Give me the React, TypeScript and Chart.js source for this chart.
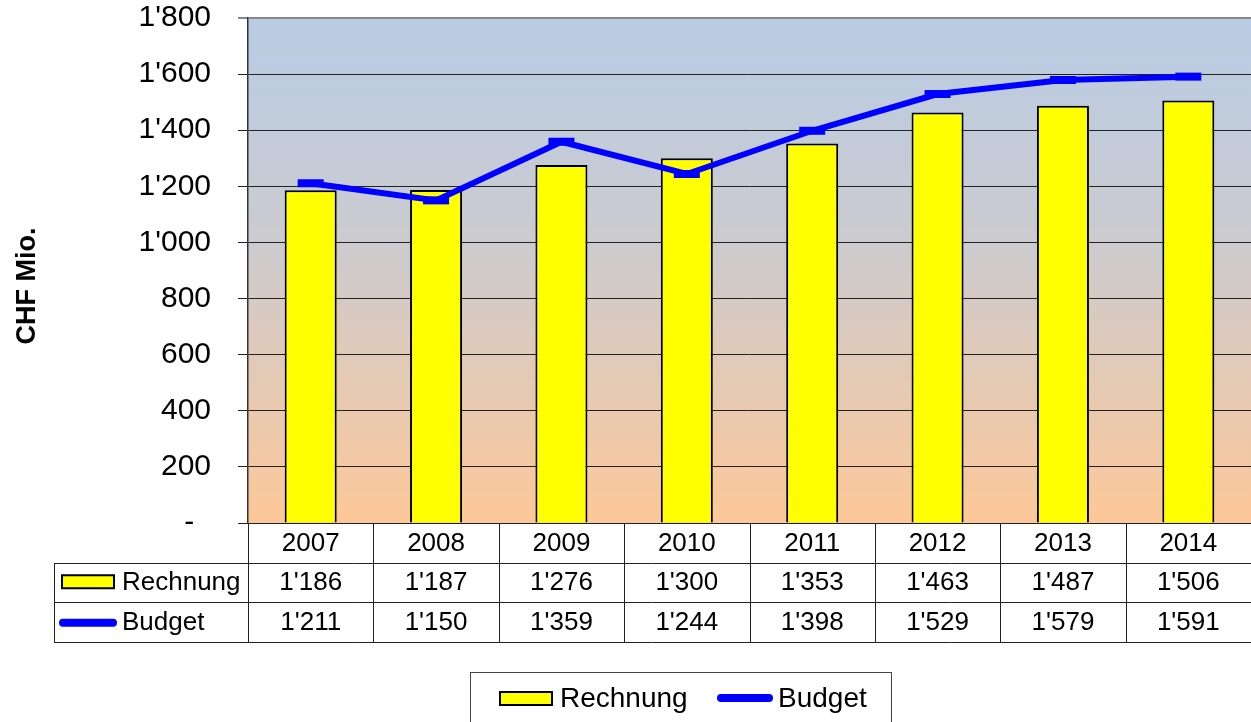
import React, { useEffect, useRef } from 'react';
import { Chart, registerables } from 'chart.js';

Chart.register(...registerables);

const years = ['2007', '2008', '2009', '2010', '2011', '2012', '2013', '2014'];
const rechnung = [1186, 1187, 1276, 1300, 1353, 1463, 1487, 1506];
const budget = [1211, 1150, 1359, 1244, 1398, 1529, 1579, 1591];
const seriesNames = ['Rechnung', 'Budget'];
const axisTitle = 'CHF Mio.';
const yMin = 0;
const yMax = 1800;
const yStep = 200;

const FONT = "'Liberation Sans', Arial, sans-serif";
const BAR_FILL = '#FFFF00';
const LINE_COLOR = '#0000FF';

const fmt = (v: number): string => {
  if (v === 0) return '-  ';
  if (v >= 1000) return Math.floor(v / 1000) + "'" + String(v % 1000).padStart(3, '0');
  return String(v);
};

const bgPlugin = {
  id: 'bgGradient',
  beforeDraw(chart: any) {
    const { ctx, chartArea: a } = chart;
    ctx.save();
    ctx.fillStyle = '#FFFFFF';
    ctx.fillRect(0, 0, chart.width, chart.height);
    const g = ctx.createLinearGradient(0, a.top, 0, a.bottom);
    g.addColorStop(0, '#B8CCE4');
    g.addColorStop(0.45, '#CCCBCF');
    g.addColorStop(1, '#FDC898');
    ctx.fillStyle = g;
    ctx.fillRect(a.left, a.top, a.right - a.left, a.bottom - a.top);
    ctx.restore();
  },
};

const drawRectKey = (ctx: CanvasRenderingContext2D, x: number, y: number, w: number, h: number) => {
  ctx.fillStyle = BAR_FILL;
  ctx.fillRect(x, y, w, h);
  ctx.strokeStyle = '#000';
  ctx.lineWidth = 2;
  ctx.strokeRect(x, y, w, h);
};

const drawLineKey = (ctx: CanvasRenderingContext2D, x1: number, x2: number, y: number) => {
  ctx.strokeStyle = LINE_COLOR;
  ctx.lineWidth = 8;
  ctx.lineCap = 'round';
  ctx.beginPath();
  ctx.moveTo(x1, y);
  ctx.lineTo(x2, y);
  ctx.stroke();
  ctx.lineCap = 'butt';
};

const tablePlugin = {
  id: 'dataTable',
  afterDraw(chart: any) {
    const { ctx, chartArea: a } = chart;
    const xs = chart.scales.x;
    const n = years.length;
    const colW = (a.right - a.left) / n;
    const rowH = 39.5;
    const r0 = a.bottom;
    const r1 = r0 + rowH;
    const r2 = r1 + rowH;
    const r3 = r2 + rowH;
    const leftX = 54;

    ctx.save();
    ctx.strokeStyle = '#222';
    ctx.lineWidth = 1;
    ctx.beginPath();
    for (const y of [r1, r2, r3]) {
      const yy = Math.round(y) + 0.5;
      ctx.moveTo(leftX, yy);
      ctx.lineTo(a.right, yy);
    }
    for (let i = 0; i < n; i++) {
      const xx = Math.round(a.left + i * colW) + 0.5;
      ctx.moveTo(xx, r0);
      ctx.lineTo(xx, Math.round(r3) + 0.5);
    }
    ctx.moveTo(leftX + 0.5, Math.round(r1) + 0.5);
    ctx.lineTo(leftX + 0.5, Math.round(r3) + 0.5);
    ctx.stroke();

    ctx.fillStyle = '#000';
    ctx.font = `26px ${FONT}`;
    ctx.textAlign = 'center';
    ctx.textBaseline = 'middle';
    years.forEach((yr, i) => {
      const cx = xs.getPixelForValue(i);
      ctx.fillText(yr, cx, (r0 + r1) / 2 + 1);
      ctx.fillText(fmt(rechnung[i]), cx, (r1 + r2) / 2 + 1);
      ctx.fillText(fmt(budget[i]), cx, (r2 + r3) / 2 + 1);
    });

    drawRectKey(ctx, 62, (r1 + r2) / 2 - 7, 52, 13);
    drawLineKey(ctx, 63, 113, (r2 + r3) / 2 + 1);
    ctx.fillStyle = '#000';
    ctx.textAlign = 'left';
    ctx.font = `26px ${FONT}`;
    ctx.fillText(seriesNames[0], 122, (r1 + r2) / 2 + 1);
    ctx.fillText(seriesNames[1], 122, (r2 + r3) / 2 + 1);

    ctx.save();
    ctx.translate(35, 286);
    ctx.rotate(-Math.PI / 2);
    ctx.font = `bold 27px ${FONT}`;
    ctx.textAlign = 'center';
    ctx.textBaseline = 'alphabetic';
    ctx.fillText(axisTitle, 0, 0);
    ctx.restore();

    ctx.strokeStyle = '#444';
    ctx.lineWidth = 1;
    ctx.strokeRect(470.5, 672.5, 421, 70);
    drawRectKey(ctx, 500, 692, 52, 13);
    ctx.fillStyle = '#000';
    ctx.font = `28px ${FONT}`;
    ctx.textAlign = 'left';
    ctx.textBaseline = 'middle';
    ctx.fillText(seriesNames[0], 560, 699);
    drawLineKey(ctx, 721, 769, 698);
    ctx.fillStyle = '#000';
    ctx.fillText(seriesNames[1], 778, 699);
    ctx.restore();
  },
};

export default function App() {
  const ref = useRef<HTMLCanvasElement | null>(null);

  useEffect(() => {
    if (!ref.current) return;
    const chart = new Chart(ref.current, {
      type: 'bar',
      data: {
        labels: years,
        datasets: [
          {
            type: 'line',
            label: seriesNames[1],
            data: budget,
            borderColor: LINE_COLOR,
            backgroundColor: LINE_COLOR,
            borderWidth: 6,
            tension: 0,
            pointStyle: 'line',
            pointRadius: 13,
            pointBorderWidth: 8,
            pointBorderColor: LINE_COLOR,
            order: 0,
          } as any,
          {
            type: 'bar',
            label: seriesNames[0],
            data: rechnung,
            backgroundColor: BAR_FILL,
            borderColor: '#000',
            borderWidth: 2,
            barPercentage: 0.415,
            categoryPercentage: 1,
            order: 1,
          } as any,
        ],
      },
      options: {
        responsive: false,
        animation: false,
        devicePixelRatio: 1,
        layout: { autoPadding: false, padding: { top: 18, right: 0, bottom: 199, left: 0 } },
        plugins: {
          legend: { display: false },
          tooltip: { enabled: false },
        },
        scales: {
          x: { type: 'category', display: false, offset: true },
          y: {
            min: yMin,
            max: yMax,
            afterFit: (scale: any) => {
              scale.width = 248;
              scale.paddingTop = 0;
              scale.paddingBottom = 0;
            },
            ticks: {
              stepSize: yStep,
              padding: 27,
              color: '#000',
              font: { family: FONT, size: 30 },
              callback: (v: any) => fmt(Number(v)),
            },
            grid: {
              color: (c: any) => (c.tick && c.tick.value === yMax ? '#888' : '#222'),
              lineWidth: (c: any) => (c.tick && c.tick.value === yMax ? 2 : 1),
              tickLength: 10,
              drawTicks: true,
            },
            border: { display: true, color: '#333', width: 1.5 },
          },
        },
      },
      plugins: [bgPlugin, tablePlugin],
    });
    return () => chart.destroy();
  }, []);

  return (
    <div style={{ position: 'absolute', left: 0, top: 0, width: 1251, height: 722 }}>
      <canvas ref={ref} width={1251} height={722} style={{ display: 'block' }} />
    </div>
  );
}
